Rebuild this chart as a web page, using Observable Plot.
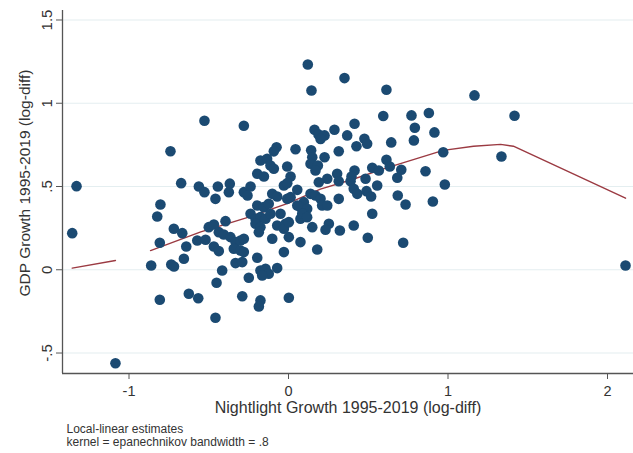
<!DOCTYPE html>
<html><head><meta charset="utf-8">
<script src="https://cdn.jsdelivr.net/npm/d3@7"></script>
<script src="https://cdn.jsdelivr.net/npm/@observablehq/plot@0.6"></script>
<style>body{margin:0;background:#fff} #chart svg{display:block}</style>
</head><body><div id="chart"></div>
<script>
// Nightlight growth (x) and GDP growth (y), 1995-2019 log-diff
const nightlight = [
-1.356,-1.329,-1.085,2.113,1.335,1.417,
-0.527,-0.280,-0.740,
0.121,0.351,0.144,0.163,0.188,0.226,0.201,0.288,0.414,0.368,-0.075,-0.092,0.044,0.142,0.149,0.315,0.226,0.138,0.184,0.169,-0.176,-0.134,-0.113,-0.092,-0.196,-0.154,-0.008,0.013,0.243,0.190,0.305,0.315,0.389,
0.614,1.166,0.594,0.771,0.880,0.792,0.915,0.476,0.493,0.426,0.644,0.786,0.970,0.614,0.635,0.414,0.395,0.525,0.566,0.707,0.859,0.483,0.682,
0.980,0.409,0.431,0.489,0.518,0.556,0.685,0.734,0.905,0.525,0.409,0.497,0.719,
-0.673,-0.562,-0.527,-0.443,-0.368,-0.374,-0.458,-0.280,-0.803,-0.823,-0.719,-0.666,-0.807,-0.641,-0.656,-0.861,-0.735,-0.718,-0.572,-0.520,-0.500,-0.468,-0.395,-0.437,-0.406,-0.468,-0.437,-0.364,-0.332,-0.301,-0.280,-0.343,-0.301,-0.280,-0.332,-0.290,-0.416,-0.451,-0.807,-0.625,-0.566,-0.290,-0.458,
-0.238,-0.257,-0.102,-0.071,-0.029,-0.008,0.055,-0.008,0.013,0.138,0.169,0.201,0.211,0.243,0.096,0.075,0.117,0.096,0.055,0.315,-0.196,-0.155,-0.124,-0.238,-0.207,-0.176,-0.144,-0.113,-0.050,-0.207,-0.176,-0.186,-0.071,-0.019,-0.029,0.002,0.075,0.086,0.117,0.149,0.253,0.232,0.322,-0.102,0.002,0.075,0.180,-0.029,-0.196,-0.176,-0.144,-0.124,-0.071,-0.249,-0.165,-0.176,-0.186,0.002
];
const gdp = [
0.220,0.502,-0.561,0.026,0.680,0.925,
0.895,0.865,0.712,
1.233,1.151,1.077,0.841,0.813,0.807,0.786,0.841,0.877,0.807,0.736,0.711,0.724,0.717,0.676,0.712,0.676,0.637,0.626,0.596,0.656,0.667,0.626,0.607,0.577,0.560,0.620,0.560,0.547,0.526,0.577,0.532,0.532,
1.081,1.047,0.923,0.927,0.941,0.853,0.825,0.787,0.757,0.742,0.765,0.777,0.706,0.661,0.620,0.596,0.560,0.613,0.596,0.601,0.592,0.547,0.553,
0.512,0.486,0.456,0.472,0.440,0.506,0.446,0.392,0.410,0.336,0.266,0.192,0.162,
0.520,0.500,0.466,0.500,0.517,0.466,0.426,0.466,0.392,0.320,0.246,0.220,0.162,0.140,0.066,0.026,0.032,0.020,0.176,0.180,0.256,0.272,0.292,0.226,0.212,0.140,0.112,0.196,0.166,0.176,0.186,0.126,0.116,0.106,0.040,0.046,-0.004,-0.078,-0.180,-0.144,-0.171,-0.159,-0.288,
0.500,0.446,0.456,0.440,0.506,0.520,0.480,0.426,0.436,0.456,0.446,0.426,0.386,0.386,0.406,0.376,0.366,0.336,0.386,0.426,0.386,0.376,0.396,0.336,0.306,0.316,0.306,0.336,0.336,0.276,0.256,0.226,0.266,0.276,0.246,0.286,0.306,0.336,0.316,0.256,0.276,0.240,0.236,0.186,0.196,0.166,0.122,0.106,0.072,-0.004,0.006,-0.024,0.010,-0.048,-0.034,-0.184,-0.220,-0.168
];

// Local-linear fit (two drawn pieces)
const fitX = [-1.356,-1.085, -0.865,-0.55,-0.27,0.0,0.2,0.4,0.6,0.97,1.16,1.33,1.41,2.113];
const fitY = [0.010,0.056, 0.115,0.228,0.310,0.400,0.484,0.542,0.607,0.717,0.742,0.753,0.742,0.430];
const fitPiece = [1,1, 2,2,2,2,2,2,2,2,2,2,2,2];

const xTicks = [-1, 0, 1, 2];
const xTickLabels = ["-1", "0", "1", "2"];
const yTicks = [-0.5, 0, 0.5, 1, 1.5];
const yTickLabels = ["-.5", "0", ".5", "1", "1.5"];
const xDomain = [-1.417, 2.163];
const yDomain = [-0.623, 1.557];

const xTitle = "Nightlight Growth 1995-2019 (log-diff)";
const yTitle = "GDP Growth 1995-2019 (log-diff)";
const notes = ["Local-linear estimates", "kernel = epanechnikov bandwidth = .8"];

const points = nightlight.map((x, i) => ({x, y: gdp[i]}));
const fit = fitX.map((x, i) => ({x, y: fitY[i], piece: fitPiece[i]}));

const axisColor = "#555";
const textColor = "#333";

const chart = Plot.plot({
  width: 633,
  height: 453,
  marginLeft: 62,
  marginRight: 0,
  marginTop: 10,
  marginBottom: 80,
  style: {fontFamily: "'Liberation Sans', Arial, sans-serif", background: "#fff", color: textColor},
  x: {domain: xDomain},
  y: {domain: yDomain},
  marks: [
    Plot.ruleY(yTicks, {stroke: "#e4eef0", strokeWidth: 1.2}),
    Plot.ruleX([xDomain[0]], {stroke: axisColor, strokeWidth: 1.3}),
    Plot.ruleY([yDomain[0]], {stroke: axisColor, strokeWidth: 1.3}),
    Plot.axisX({ticks: xTicks, tickFormat: d => xTickLabels[xTicks.indexOf(d)], tickSize: 6, tickPadding: 6, fontSize: 14.5, label: null, stroke: axisColor, fill: textColor}),
    Plot.axisY({ticks: yTicks, tickFormat: d => yTickLabels[yTicks.indexOf(d)], tickSize: 6, tickPadding: 5, tickRotate: -90, fontSize: 15, label: null, stroke: axisColor, fill: textColor}),
    Plot.line(fit, {x: "x", y: "y", z: "piece", stroke: "#9b3a42", strokeWidth: 1.4}),
    Plot.dot(points, {x: "x", y: "y", r: 5.3, fill: "#1b4a72", stroke: "none"}),
    Plot.text([xTitle], {frameAnchor: "bottom", dy: 39, fontSize: 16, fill: textColor}),
    Plot.text([yTitle], {frameAnchor: "left", dx: -37, dy: -9, rotate: -90, textAnchor: "middle", fontSize: 15.5, fill: textColor}),
    Plot.text([notes[0]], {frameAnchor: "bottom-left", dx: 4, dy: 59, textAnchor: "start", fontSize: 12, fill: textColor}),
    Plot.text([notes[1]], {frameAnchor: "bottom-left", dx: 4, dy: 72, textAnchor: "start", fontSize: 12, fill: textColor})
  ]
});
document.getElementById("chart").appendChild(chart);
</script></body></html>
